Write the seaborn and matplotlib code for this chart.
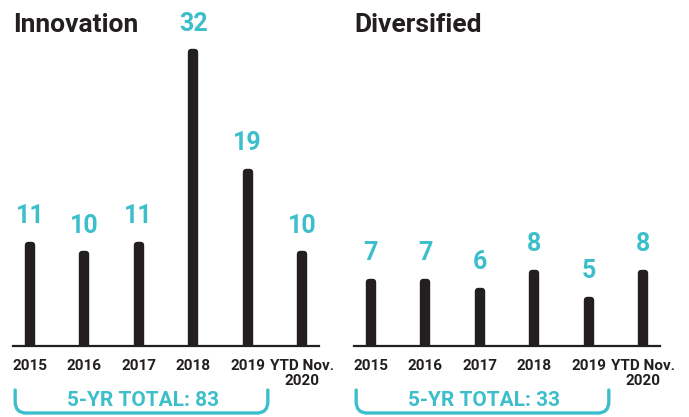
import matplotlib
matplotlib.use("Agg")
import matplotlib.pyplot as plt
import matplotlib.transforms as mtransforms
from matplotlib.path import Path
from matplotlib.patches import PathPatch
import seaborn as sns
import pandas as pd

# --- 数据 ---
years = ["2015", "2016", "2017", "2018", "2019", "YTD Nov.\n2020"]
innovation = [11, 10, 11, 32, 19, 10]
diversified = [7, 7, 6, 8, 5, 8]
titles = ["Innovation", "Diversified"]

bar_color = "#231F20"
cyan = "#3DBFCB"

sns.set_theme(style="white")
plt.rcParams["font.family"] = ["Roboto", "DejaVu Sans"]

fig = plt.figure(figsize=(6.89, 4.17), dpi=100)
W, H = 689, 417

# 两个面板的位置 (像素)
panels = [(13, innovation), (354, diversified)]
axis_y = 346

for (left_px, values), title in zip(panels, titles):
    ax = fig.add_axes([left_px / W, (H - axis_y) / H, 306 / W, axis_y / H])
    df = pd.DataFrame({"year": years, "count": values})
    sns.barplot(data=df, x="year", y="count", ax=ax, color=bar_color,
                width=0.07, saturation=1)
    # 粗描边 + 圆角 -> 圆头柱子
    for p in ax.patches:
        p.set_edgecolor(bar_color)
        p.set_linewidth(4.6)
        p.set_joinstyle("round")
    ax.set_xlim(-0.31, 5.31)
    ax.set_ylim(0, 37.7)
    for s in ["top", "right", "left"]:
        ax.spines[s].set_visible(False)
    ax.spines["bottom"].set_color(bar_color)
    ax.spines["bottom"].set_linewidth(1.6)
    ax.spines["bottom"].set_zorder(5)
    ax.set_yticks([])
    ax.set_xlabel("")
    ax.set_ylabel("")
    ax.tick_params(axis="x", length=0, pad=9)
    ax.set_xticks(range(len(years)))
    ax.set_xticklabels(years, fontsize=11, fontweight="bold", color=bar_color,
                       linespacing=1.15)

    # 数值标签
    for i, v in enumerate(values):
        ax.annotate(str(v), (i, v), xytext=(0, 12), textcoords="offset points",
                    ha="center", va="bottom", fontsize=18, fontweight="bold",
                    color=cyan)

    fig.text(left_px / W, (H - 32) / H, title, fontsize=19, fontweight="bold",
             color=bar_color, ha="left", va="baseline")

    # 5年合计括号
    trans = mtransforms.blended_transform_factory(ax.transData, fig.transFigure)
    x0, x1 = -0.27, 4.37
    ytop, ybot = (H - 390) / H, (H - 413) / H
    rx, ry = 0.2, 0.027
    verts = [(x0, ytop), (x0, ybot + ry), (x0, ybot), (x0 + rx, ybot),
             (x1 - rx, ybot), (x1, ybot), (x1, ybot + ry), (x1, ytop)]
    codes = [Path.MOVETO, Path.LINETO, Path.CURVE3, Path.CURVE3,
             Path.LINETO, Path.CURVE3, Path.CURVE3, Path.LINETO]
    bracket = PathPatch(Path(verts, codes), transform=trans, fill=False,
                        edgecolor=cyan, linewidth=2.4, capstyle="round",
                        clip_on=False)
    ax.add_artist(bracket)
    total = sum(values[:5])
    ax.text((x0 + x1) / 2 + 0.03, (H - 400) / H, f"5-YR TOTAL: {total}",
            transform=trans, ha="center", va="center", fontsize=15,
            fontweight="bold", color=cyan)

fig.savefig("out.png", dpi=100)
